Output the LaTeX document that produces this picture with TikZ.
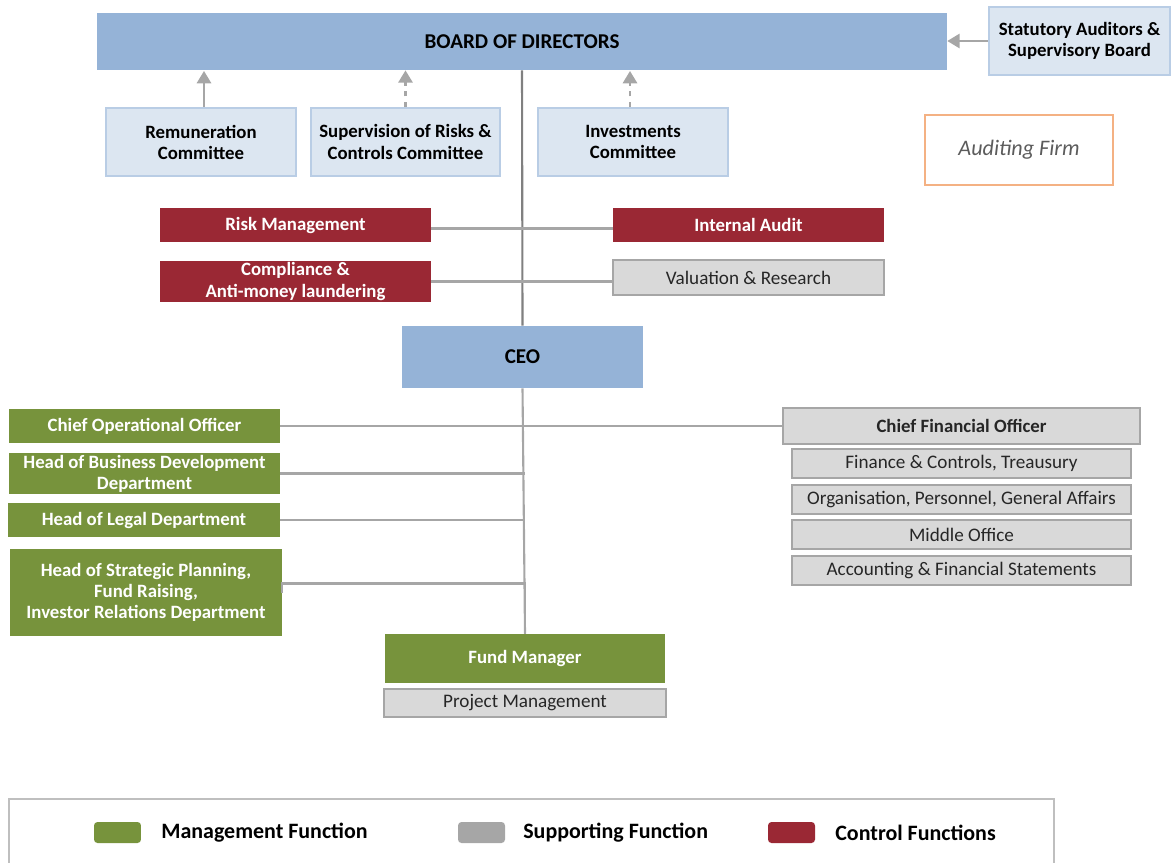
\documentclass[tikz,border=0pt]{standalone}
\usepackage{fontspec}
\setmainfont{Carlito}
\usepackage{tikz}
\usepackage{xcolor}
\usetikzlibrary{arrows.meta}

\definecolor{headblue}{HTML}{95B3D7}
\definecolor{paleblue}{HTML}{DCE6F1}
\definecolor{paleline}{HTML}{B9CDE5}
\definecolor{ctrlred}{HTML}{9A2834}
\definecolor{mgmtgreen}{HTML}{77933C}
\definecolor{suppgray}{HTML}{D9D9D9}
\definecolor{suppline}{HTML}{A6A6A6}
\definecolor{legendgray}{HTML}{A6A6A6}
\definecolor{firmorange}{HTML}{F4B183}
\definecolor{darktext}{HTML}{262626}

\newcommand{\boxbold}{\fontsize{10.7}{12}\selectfont\bfseries}

\begin{document}
\begin{tikzpicture}[x=0.02cm, y=-0.02cm,
  every node/.style={align=center, inner sep=0pt},
  head/.style={fill=headblue, font=\fontsize{12}{14}\selectfont\bfseries},
  committee/.style={fill=paleblue, draw=paleline, line width=1.2pt, font=\boxbold},
  control/.style={fill=ctrlred, text=white, font=\boxbold},
  manage/.style={fill=mgmtgreen, text=white, font=\boxbold},
  support/.style={fill=suppgray, draw=suppline, line width=1.2pt, text=darktext, font=\fontsize{10.9}{12}\selectfont},
  link/.style={draw=suppline, line width=1.2pt},
  uplink/.style={draw=suppline, line width=1.5pt, -{Triangle[width=8pt,length=7pt]}},
  swatch/.style={rounded corners=2pt, minimum width=0.94cm, minimum height=0.42cm},
  legendtext/.style={anchor=west, font=\fontsize{12.5}{14}\selectfont\bfseries}]
  \useasboundingbox (0,0) rectangle (1175,862);

  % board and its committees
  \node[head, minimum width=17cm, minimum height=1.14cm] (board) at (522,41.5) {BOARD OF DIRECTORS};
  \node[committee, minimum width=3.62cm, minimum height=1.36cm] (auditors) at (1079.5,41) {Statutory Auditors \&\\Supervisory Board};
  \node[committee, minimum width=3.8cm, minimum height=1.36cm] (remun) at (201,142) {Remuneration\\Committee};
  \node[committee, minimum width=3.78cm, minimum height=1.36cm] (riskcom) at (405.5,142) {Supervision of Risks \&\\Controls Committee};
  \node[committee, minimum width=3.8cm, minimum height=1.36cm] (invest) at (633,142) {Investments\\Committee};
  \node[draw=firmorange, line width=1.2pt, fill=white, minimum width=3.76cm, minimum height=1.4cm,
        text=darktext!75, font=\fontsize{12.6}{14}\selectfont\itshape] (firm) at (1019,150) {Auditing Firm};

  \draw[uplink] (auditors.west) -- (board.east |- auditors.west);
  \draw[uplink] (remun.north) ++(3,0) -- ++(0,-36);
  \draw[uplink, dashed] (riskcom.north) -- (riskcom.north |- board.south);
  \draw[uplink, dashed] (invest.north) ++(-3,0) -- ++(0,-36);

  % control functions
  \node[control, minimum width=5.42cm, minimum height=0.68cm] (riskmgmt) at (295.5,225) {Risk Management};
  \node[control, minimum width=5.42cm, minimum height=0.68cm] (intaudit) at (748.5,225) {Internal Audit};
  \node[control, minimum width=5.42cm, minimum height=0.82cm] (compl) at (295.5,281.5) {Compliance \&\\Anti-money laundering};
  \node[support, minimum width=5.42cm, minimum height=0.7cm] (valuation) at (748.5,277.5) {Valuation \& Research};

  \node[head, minimum width=4.82cm, minimum height=1.24cm] (ceo) at (522.5,357) {CEO};

  \draw[draw=gray, line width=1.2pt] (board.south) -- (ceo.north);
  \draw[link] ([yshift=-2pt]riskmgmt.east) -- ([yshift=-2pt]intaudit.west);
  \draw[link] (compl.east) -- (compl.east -| valuation.west);

  % management side
  \node[manage, minimum width=5.42cm, minimum height=0.68cm] (coo) at (144.5,426) {Chief Operational Officer};
  \node[manage, minimum width=5.42cm, minimum height=0.82cm] (busdev) at (144.5,473.5) {Head of Business Development\\Department};
  \node[manage, minimum width=5.44cm, minimum height=0.68cm] (legal) at (144,520) {Head of Legal Department};
  \node[manage, minimum width=5.44cm, minimum height=1.74cm] (strategy) at (146,592.5) {Head of Strategic Planning,\\Fund Raising,\\Investor Relations Department};

  \node[support, font=\boxbold, minimum width=7.14cm, minimum height=0.72cm] (cfo) at (961.5,426) {Chief Financial Officer};
  \node[support, minimum width=6.78cm, minimum height=0.58cm] (finance) at (961.5,463.5) {Finance \& Controls, Treausury};
  \node[support, minimum width=6.78cm, minimum height=0.58cm] (organis) at (961.5,499.5) {Organisation, Personnel, General Affairs};
  \node[support, minimum width=6.78cm, minimum height=0.58cm] (middle) at (961.5,534.5) {Middle Office};
  \node[support, minimum width=6.78cm, minimum height=0.58cm] (account) at (961.5,570.5) {Accounting \& Financial Statements};

  \node[manage, minimum width=5.6cm, minimum height=0.98cm] (fundmgr) at (525,658.5) {Fund Manager};
  \node[support, minimum width=5.64cm, minimum height=0.56cm] (project) at (525,703) {Project Management};

  \draw[link] (ceo.south) -- (fundmgr.north);
  \draw[link] (coo.east) -- (cfo.west);
  \draw[link] (busdev.east) -- (busdev.east -| fundmgr.north);
  \draw[link] (legal.east) -- (legal.east -| fundmgr.north);
  \draw[link] (strategy.east) -- ++(0,-9) -| (fundmgr.north);

  % legend
  \draw[draw=gray!50, line width=1.2pt] (9,799) rectangle (1054,880);
  \node[swatch, fill=mgmtgreen] (keymgmt) at (117.5,832.5) {};
  \node[legendtext] (keymgmttxt) at (161,833) {Management Function};
  \node[swatch, fill=legendgray] (keysupp) at (481.5,832.5) {};
  \node[legendtext] (keysupptxt) at (523,833) {Supporting Function};
  \node[swatch, fill=ctrlred] (keyctrl) at (791.5,832.5) {};
  \node[legendtext] (keyctrltxt) at (835,833) {Control Functions};
\end{tikzpicture}
\end{document}
